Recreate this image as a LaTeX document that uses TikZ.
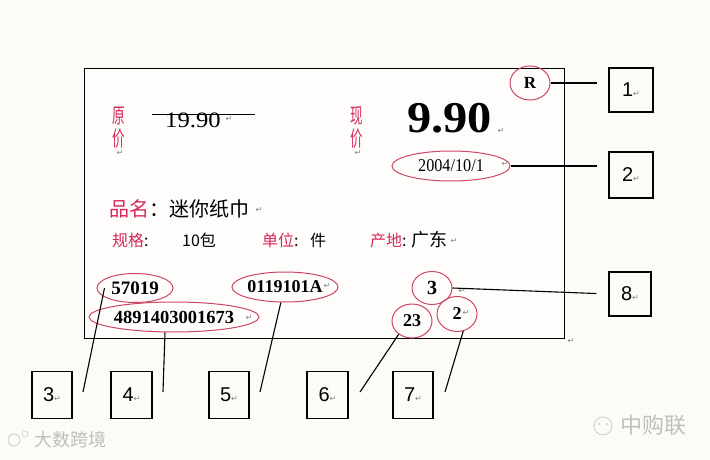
\documentclass[tikz,border=0pt]{standalone}
\usepackage{fontspec}
\setmainfont{Liberation Serif}
\newfontfamily\cjk{Noto Sans CJK SC}
\newfontfamily\symf{DejaVu Sans}
\newfontfamily\lsans{Liberation Sans}
\usetikzlibrary{shapes.geometric,calc}
\definecolor{lbl}{RGB}{214,40,90}
\definecolor{ring}{RGB}{205,70,100}
\definecolor{bg}{RGB}{252,251,247}
\newcommand{\retmark}{{\symf\color{gray}\fontsize{8}{8}\selectfont ↵}}
\tikzset{
  numbox/.style={draw,line width=1.1pt,inner sep=0pt,minimum width=42pt,minimum height=46pt,font=\lsans\fontsize{20}{20}\selectfont},
  ring/.style={ellipse,draw=ring,line width=1pt,inner sep=0pt},
  conn/.style={draw,line width=1.1pt},
  num/.style={font=\fontsize{18}{18}\selectfont\bfseries},
  rm/.style={inner sep=0pt,font=\symf\color{gray}\fontsize{8}{8}\selectfont},
  redv/.style={inner sep=0pt,text=lbl,font=\cjk\fontsize{21}{21}\selectfont},
  row/.style={inner sep=0pt,anchor=west,font=\cjk\fontsize{16}{16}\selectfont},
  wm/.style={inner sep=0pt,text=black!25,font=\cjk\fontsize{18}{18}\selectfont}
}
\begin{document}
\begin{tikzpicture}[x=1pt,y=-1pt]
\fill[bg] (0,0) rectangle (710,460);
\useasboundingbox (0,0) rectangle (710,460);
% main label
\node[draw,line width=1.1pt,minimum width=480pt,minimum height=270pt,inner sep=0pt,anchor=north west,fill=white!60!bg] (main) at (84,68) {};
% right boxes
\node[numbox,minimum width=44pt,minimum height=44pt] (b1) at (631,90) {1\retmark};
\node[numbox,minimum width=44pt] (b2) at (631,175) {2\retmark};
\node[numbox,minimum height=44pt] (b8) at (630,294) {8\retmark};
% bottom boxes
\node[numbox,minimum width=40pt,minimum height=47pt] (b3) at (52,395) {3\retmark};
\node[numbox,minimum width=41pt,minimum height=47pt] (b4) at (131.5,395) {4\retmark};
\node[numbox,minimum width=40pt,minimum height=47pt] (b5) at (229,395) {5\retmark};
\node[numbox,minimum width=41pt,minimum height=47pt] (b6) at (327.5,395) {6\retmark};
\node[numbox,minimum width=40pt,minimum height=47pt] (b7) at (413,395) {7\retmark};
% prices
\node[redv] (y1) at (119,116) {\scalebox{0.6}[1]{原}};
\node[redv] (y2) at (119,139) {\scalebox{0.6}[1]{价}};
\node[rm] at (120,153) {↵};
\node[redv] (x1) at (357,116) {\scalebox{0.6}[1]{现}};
\node[redv] (x2) at (357,139) {\scalebox{0.6}[1]{价}};
\node[rm] at (358,153) {↵};
\node[inner sep=0pt,anchor=west,font=\fontsize{22}{22}\selectfont] (old) at (165,120) {\scalebox{1.12}[1]{19.90}};
\node[rm] at (229,119) {↵};
\draw[line width=1pt] (152,114) -- (255,114);
\node[inner sep=0pt,anchor=west,font=\fontsize{44}{44}\selectfont\bfseries] (new) at (407,118) {\scalebox{1.1}[1]{9.90}};
\node[rm] at (501,131) {↵};
% R and date
\node[ring,minimum width=40pt,minimum height=34pt,font=\fontsize{17}{17}\selectfont\bfseries] (R) at (530,83) {\raisebox{-2pt}{R}};
\node[ring,minimum width=118pt,minimum height=30pt,font=\fontsize{18}{18}\selectfont] (date) at (451,166) {\scalebox{0.9}[1]{2004/10/1}\hspace{8pt}};
\node[rm] at (505,164) {↵};
% product rows
\node[row,font=\cjk\fontsize{20}{20}\selectfont] (pn) at (109,209) {\textcolor{lbl}{品名}：迷你纸巾};
\node[rm] at (259,210) {↵};
\node[row] (gg) at (112,240) {\textcolor{lbl}{规格}:};
\node[row] (gv) at (182,240) {10包};
\node[row] (dw) at (262,240) {\textcolor{lbl}{单位}:};
\node[row] (dv) at (310,240) {件};
\node[row] (cd) at (370,240) {\textcolor{lbl}{产地}:};
\node[row,font=\cjk\fontsize{18}{18}\selectfont] (cv) at (411,240) {广东};
\node[rm] at (454,241) {↵};
% bottom codes
\node[ring,minimum width=76pt,minimum height=29pt,num,font=\fontsize{19}{19}\selectfont\bfseries] (e1) at (135,288) {57019};
\node[ring,minimum width=96pt,minimum height=30pt,num] (e2) at (285,287) {0119101A\hspace{8pt}};
\node[rm] at (327,286) {↵};
\node[ring,minimum width=156pt,minimum height=30pt,num,font=\fontsize{18.5}{18.5}\selectfont\bfseries] (e3) at (174,317) {4891403001673\hspace{8pt}};
\node[rm] at (249,318) {↵};
\node[ring,minimum width=40pt,minimum height=33pt,num,font=\fontsize{20}{20}\selectfont\bfseries] (c3) at (432,288) {3};
\node[rm] at (462,291) {↵};
\node[ring,minimum width=40pt,minimum height=34pt,num] (c23) at (412,321) {23};
\node[ring,minimum width=40pt,minimum height=35pt,num] (c2) at (457,314) {2\hspace{7pt}};
\node[rm] at (466,313) {↵};
\node[rm] at (571,341) {↵};
% free ends
\coordinate (t3) at (83,392);
\coordinate (t4) at (163,392);
\coordinate (t5) at (260,392);
\coordinate (t6) at (360,392);
\coordinate (t7) at (445,392);
% connectors
\draw[conn,shorten >=11pt] (R.east) -- (R.east -| b1.west);
\draw[conn,shorten >=11pt] (date.east) -- (date.east -| b2.west);
\draw[conn,shorten >=12pt] (c3.east) -- (b8.west);
\draw[conn] ($(e1.west)+(8,0)$) -- (t3);
\draw[conn] ($(e3.south)+(-9,0)$) -- (t4);
\draw[conn] (e2.255) -- (t5);
\draw[conn] (c23.225) -- (t6);
\draw[conn] (c2.290) -- (t7);
% watermarks
\draw[black!20,line width=0.8pt] (14,440) circle (6pt);
\draw[black!20,line width=0.6pt] (25,434) circle (3pt);
\node[wm,anchor=west] (wm1) at (34,440) {大数跨境};
\draw[black!20,line width=0.8pt] (603,426) circle (9pt);
\fill[black!20] (599,424) circle (1.2pt) (607,424) circle (1.2pt);
\node[wm,anchor=west,font=\cjk\fontsize{22}{22}\selectfont] (wm2) at (620,425) {中购联};
\end{tikzpicture}
\end{document}
